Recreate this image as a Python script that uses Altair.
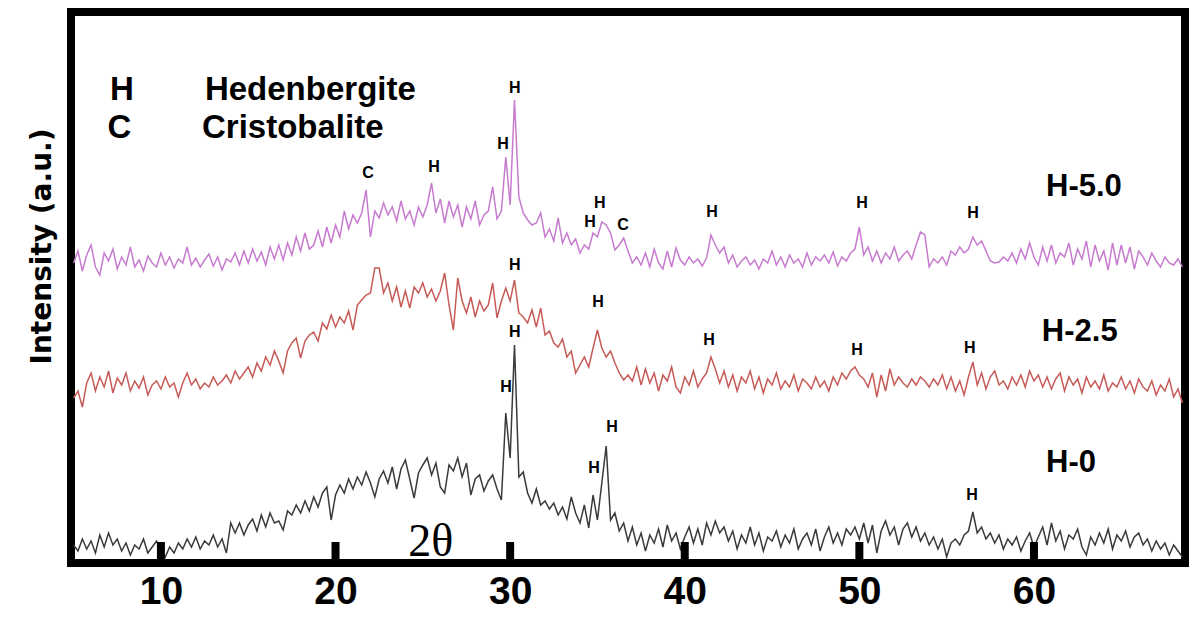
import altair as alt
import numpy as np
import pandas as pd

# XRD scan grid (2theta, degrees)
SCAN_START, SCAN_STEP, SCAN_END = 5.0, 0.25, 68.5
two_theta = np.round(np.arange(SCAN_START, SCAN_END + 1e-9, SCAN_STEP), 2)

# Intensities (a.u.), one value per scan step
h50 = [
    300, 312, 292, 308, 318, 296, 288, 310,
    302, 314, 294, 306, 298, 316, 296, 303,
    292, 307, 300, 296, 310, 298, 306, 295,
    304, 300, 316, 298, 305, 296, 303, 309,
    297, 306, 293, 304, 301, 310, 298, 312,
    300, 314, 302, 311, 298, 316, 304, 318,
    303, 320, 308, 326, 312, 330, 314, 318,
    332, 316, 336, 320, 338, 326, 352, 334,
    348, 340, 350, 373, 326, 352, 345, 360,
    348, 356, 342, 362, 344, 352, 338, 356,
    346, 358, 380, 350, 364, 340, 362, 346,
    358, 336, 356, 344, 362, 338, 348, 352,
    376, 344, 352, 406, 358, 463, 366, 350,
    343, 338, 340, 350, 326, 334, 322, 345,
    320, 330, 318, 324, 310, 318, 314, 330,
    326, 341, 338, 330, 313, 318, 325, 312,
    300, 306, 298, 310, 296, 314, 300, 294,
    312, 296, 315, 303, 298, 306, 300, 304,
    297, 305, 328, 318, 310, 316, 300, 308,
    296, 302, 306, 298, 303, 294, 304, 300,
    312, 298, 306, 296, 308, 300, 304, 296,
    310, 298, 306, 302, 308, 300, 311, 297,
    306, 302, 310, 314, 336, 308, 316, 302,
    312, 300, 310, 304, 316, 302, 308, 312,
    304, 318, 331, 328, 296, 304, 300, 306,
    298, 312, 308, 316, 310, 314, 326, 318,
    322, 312, 302, 300, 301, 306, 302, 310,
    300, 314, 304, 320, 306, 298, 316, 302,
    318, 300, 310, 306, 320, 298, 314, 304,
    322, 296, 318, 302, 312, 293, 320, 298,
    318, 300, 316, 294, 312, 306, 298, 310,
    302, 296, 306, 300, 298, 304, 296,
]

h25 = [
    165, 172, 156, 180, 190, 172, 186, 176,
    192, 170, 185, 178, 190, 172, 182, 175,
    186, 168, 178, 182, 174, 186, 176, 180,
    166, 180, 190, 178, 184, 174, 180, 176,
    186, 178, 182, 188, 180, 192, 184, 190,
    196, 186, 200, 192, 206, 198, 212, 202,
    190, 212, 220, 225, 205, 222, 228, 231,
    222, 240, 234, 248, 236, 246, 240, 252,
    233, 258, 263, 268, 270, 295, 295, 270,
    280, 262, 276, 256, 272, 255, 276, 270,
    280, 266, 274, 262, 272, 290, 258, 233,
    285, 262, 250, 266, 246, 262, 252, 258,
    280, 245, 262, 275, 262, 283, 250, 246,
    240, 253, 236, 255, 228, 232, 220, 216,
    224, 206, 212, 190, 198, 206, 196, 215,
    233, 215, 206, 212, 200, 190, 183, 188,
    182, 196, 178, 194, 180, 190, 172, 188,
    182, 196, 176, 170, 186, 178, 192, 176,
    184, 190, 206, 194, 180, 192, 176, 188,
    172, 186, 180, 192, 174, 186, 170, 184,
    178, 190, 174, 182, 176, 188, 172, 184,
    180, 174, 186, 176, 182, 172, 186, 178,
    190, 184, 192, 196, 188, 184, 176, 190,
    166, 188, 172, 194, 178, 186, 180, 176,
    184, 178, 186, 182, 176, 184, 178, 188,
    174, 186, 172, 182, 168, 186, 201, 178,
    190, 174, 186, 192, 178, 182, 174, 186,
    178, 188, 176, 192, 182, 188, 176, 186,
    174, 184, 190, 172, 186, 178, 184, 170,
    186, 176, 182, 174, 188, 172, 180, 176,
    186, 174, 182, 170, 184, 176, 172, 182,
    168, 178, 172, 184, 166, 174, 160,
]

h0 = [
    18, 12, 24, 14, 22, 10, 28, 16,
    30, 18, 24, 12, 20, 8, 18, 14,
    24, 10, 16, 22, 12, 6, 16, 10,
    20, 14, 24, 16, 26, 14, 22, 18,
    28, 16, 24, 10, 40, 30, 40, 28,
    38, 44, 32, 48, 36, 50, 40, 42,
    33, 52, 48, 58, 50, 62, 52, 66,
    56, 70, 76, 43, 68, 78, 70, 84,
    74, 86, 78, 91, 80, 66, 84, 92,
    80, 96, 74, 94, 103, 84, 65, 90,
    98, 105, 88, 100, 76, 70, 98, 92,
    105, 86, 100, 68, 84, 88, 72, 82,
    88, 74, 63, 150, 105, 218, 86, 91,
    70, 60, 74, 58, 62, 54, 60, 48,
    56, 44, 66, 50, 40, 58, 35, 68,
    43, 80, 117, 43, 50, 32, 40, 22,
    36, 18, 30, 12, 28, 20, 34, 16,
    38, 22, 30, 14, 26, 36, 20, 34,
    18, 40, 28, 42, 30, 36, 22, 32,
    14, 28, 20, 36, 18, 30, 12, 26,
    22, 32, 16, 28, 20, 34, 14, 24,
    30, 18, 34, 12, 26, 36, 20, 30,
    18, 34, 28, 36, 24, 40, 20, 38,
    10, 32, 42, 28, 36, 18, 34, 40,
    26, 36, 22, 30, 18, 26, 14, 24,
    6, 20, 24, 18, 28, 32, 51, 30,
    36, 24, 30, 20, 28, 14, 24, 18,
    26, 12, 22, 30, 16, 26, 36, 18,
    40, 22, 32, 14, 28, 24, 34, 16,
    8, 26, 18, 30, 20, 34, 14, 28,
    22, 32, 16, 26, 30, 18, 24, 12,
    22, 14, 20, 8, 18, 12, 6,
]

samples = ["H-0", "H-2.5", "H-5.0"]
sample_colors = ["#3a3a3a", "#c65b57", "#c77bcf"]

tick_values = [10, 20, 30, 40, 50, 60]

# Phase markers on peaks
peak_text = ["C", "H", "H", "H", "H", "H", "C", "H", "H", "H",
             "H", "H", "H", "H", "H",
             "H", "H", "H", "H", "H"]
peak_x = [21.86, 25.64, 29.59, 30.27, 34.57, 35.14, 36.46, 41.56, 50.15, 56.51,
          30.27, 35.03, 41.39, 49.86, 56.33,
          30.27, 29.76, 35.83, 34.80, 56.45]
peak_h = [390, 396, 419, 475, 341, 360, 338, 351, 360, 350,
          298, 261, 223, 213, 215,
          231, 176, 136, 95, 68]

# Legend of phases
legend_sym = ["H", "C"]
legend_sym_x = [7.77, 7.62]
legend_name = ["Hedenbergite", "Cristobalite"]
legend_name_x = [12.52, 12.35]
legend_h = [473, 435]

# Sample names
sample_label = ["H-5.0", "H-2.5", "H-0"]
sample_label_x = [60.69, 60.45, 60.69]
sample_label_h = [376, 231, 100]

frames = [pd.DataFrame({"two_theta": two_theta, "counts": vals, "sample": name})
          for name, vals in zip(samples, [h0, h25, h50])]
df = pd.concat(frames, ignore_index=True)

x_scale = alt.Scale(domain=[4.85, 68.65], nice=False, zero=False)
y_scale = alt.Scale(domain=[0, 551], nice=False, zero=False)

x_axis = alt.Axis(values=tick_values, labelFont="Liberation Sans",
                  labelFontSize=39, labelFontWeight="bold",
                  labelColor="black", ticks=False, domain=False,
                  grid=False, title=None, labelPadding=40,
                  labelBaseline="alphabetic", labelFlush=False)
y_axis = alt.Axis(title="Intensity (a.u.)", labels=False, ticks=False,
                  domain=False, grid=False, titleFont="DejaVu Sans",
                  titleFontSize=28, titleFontWeight="bold",
                  titleColor="black", titleX=-29, titleY=234,
                  titleAngle=270, titleBaseline="middle",
                  titleAlign="center")


def xenc(field):
    return alt.X(field, scale=x_scale, axis=x_axis, title=None)


def yenc(field):
    return alt.Y(field, scale=y_scale, axis=y_axis, title="Intensity (a.u.)")


lines = alt.Chart(df).mark_line(strokeWidth=1.5, clip=True).encode(
    x=xenc("two_theta:Q"),
    y=yenc("counts:Q"),
    color=alt.Color("sample:N", scale=alt.Scale(domain=samples, range=sample_colors),
                    legend=None),
    detail="sample:N",
)

ticks = alt.Chart(pd.DataFrame({"tick": tick_values})).mark_rule(
    strokeWidth=8, color="black").encode(
    x=xenc("tick:Q"),
    y=alt.value(551), y2=alt.value(530))


def text_layer(texts, xs, hs, **kw):
    data = pd.DataFrame({"t": texts, "x": xs, "h": hs})
    return alt.Chart(data).mark_text(color="black", **kw).encode(
        x=xenc("x:Q"), y=yenc("h:Q"), text="t:N")


peaks = text_layer(peak_text, peak_x, peak_h, font="Liberation Sans", fontSize=16,
                   fontWeight="bold", align="center", baseline="middle")
leg_sym = text_layer(legend_sym, legend_sym_x, legend_h, font="Liberation Sans",
                     fontSize=33, fontWeight="bold", align="center")
leg_name = text_layer(legend_name, legend_name_x, legend_h, font="Liberation Sans",
                      fontSize=33, fontWeight="bold", align="left")
names = text_layer(sample_label, sample_label_x, sample_label_h, font="Liberation Sans",
                   fontSize=31, fontWeight="bold", align="left")
theta = text_layer(["2θ"], [25.46], [21], font="Liberation Serif", fontSize=46,
                   align="center")

chart = alt.layer(lines, ticks, peaks, leg_sym, leg_name, names, theta).properties(
    width=1114, height=551,
    autosize=alt.AutoSizeParams(type="none"),
    padding={"left": 63, "top": 4, "right": 4, "bottom": 48},
    background="white",
).configure_view(stroke="black", strokeWidth=8)

chart.save("out.html", embed_options={"renderer": "svg", "actions": False})
